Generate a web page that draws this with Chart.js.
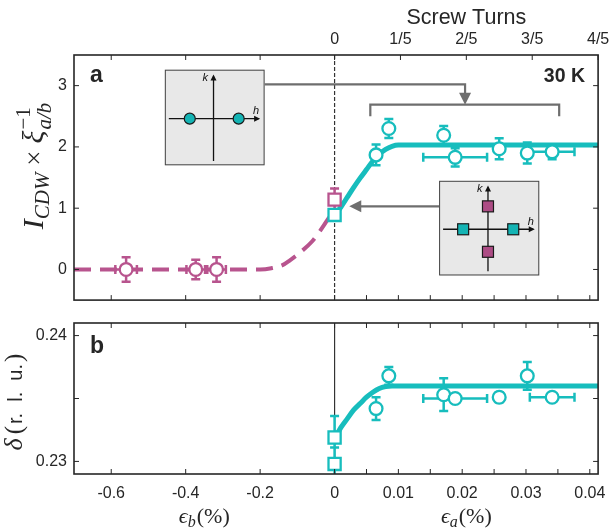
<!DOCTYPE html>
<html><head><meta charset="utf-8">
<script src="https://cdn.jsdelivr.net/npm/chart.js"></script>
<style>
html,body{margin:0;padding:0;background:#fff;}
#wrap{position:relative;width:609px;height:531px;overflow:hidden;}
#ca{position:absolute;left:0;top:0;}
#cb{position:absolute;left:0;top:311px;}
</style></head><body>
<div id="wrap"><canvas id="ca" width="609" height="311"></canvas><canvas id="cb" width="609" height="220"></canvas></div>
<script>
// ---------------- DATA ----------------
// Panel a, b-axis strain (magenta), eps_b in %
const epsB_pts   = [-0.560, -0.373, -0.317];
const intB_pts   = [0.00, 0.00, 0.00];
const intB_errY  = [0.20, 0.16, 0.20];
const intB_errX  = [0.029, 0.025, 0.025];
const epsB_sq    = [0];
const intB_sq    = [1.14];
const intB_sqErr = [0.18];
const epsB_fit   = [-0.70, -0.20, -0.17, -0.14, -0.12, -0.09, -0.06, -0.04, -0.02, 0.00];
const intB_fit   = [0.00, 0.00, 0.02, 0.07, 0.15, 0.29, 0.46, 0.62, 0.80, 0.98];

// Panel a, a-axis strain (cyan), eps_a in %
const epsA_pts   = [0.0065, 0.0085, 0.0171, 0.0189, 0.0258, 0.0302, 0.0341];
const intA_pts   = [1.87, 2.30, 2.19, 1.83, 1.97, 1.90, 1.92];
const intA_errY  = [0.17, 0.155, 0.15, 0.15, 0.17, 0.17, 0.12];
const epsA_errX  = [0, 0, 0, 0.005, 0, 0, 0.0035];
const epsA_sq    = [0];
const intA_sq    = [0.89];
const epsA_fit   = [0, 0.001, 0.002, 0.003, 0.004, 0.005, 0.006, 0.007, 0.008, 0.009, 0.010, 0.0413];
const intA_fit   = [0.88, 1.02, 1.18, 1.34, 1.49, 1.63, 1.77, 1.88, 1.96, 2.01, 2.03, 2.03];

// Panel b, incommensurability delta (r.l.u.)
const delta_pts  = [0.2342, 0.2368, 0.2353, 0.2350, 0.2351, 0.2368, 0.2351];
const delta_errY = [0.0009, 0.0007, 0.0013, 0.0003, 0.0004, 0.0011, 0];
const epsA_sqB   = [0, 0];
const delta_sq   = [0.2319, 0.2298];
const delta_sqErr= [0.0017, 0.0013];
const delta_fit  = [0.2318, 0.2327, 0.2334, 0.2341, 0.2346, 0.2351, 0.2355, 0.2358, 0.23595, 0.2360, 0.2360, 0.2360];

// Tick values / labels
const epsBTicks = [-0.6, -0.4, -0.2, 0];
const epsBTickLabels = ['-0.6', '-0.4', '-0.2', '0'];
const epsATicks = [0.01, 0.02, 0.03, 0.04];
const epsATickLabels = ['0.01', '0.02', '0.03', '0.04'];
const epsAMinor = [0.005, 0.015, 0.025, 0.035];
const turnTicks = [0, 0.2, 0.4, 0.6, 0.8];
const turnTickLabels = ['0', '1/5', '2/5', '3/5', '4/5'];
const intTicks = [0, 1, 2, 3];
const intTickLabels = ['0', '1', '2', '3'];
const deltaTicks = [0.23, 0.235, 0.24];
const deltaTickLabels = ['0.23', '', '0.24'];

// ---------------- AXIS MAPPING ----------------
const U_MIN = -0.7;            // eps_b left end (%)
const EPS_A_MAX = 0.0413;      // eps_a right end (%)
const K_A = 17.14;             // axis units per 1 % of eps_a
const U_MAX = EPS_A_MAX * K_A;
const K_T = U_MAX / 0.8;       // 4/5 turn at the right edge
const uA = e => e * K_A;

// ---------------- STYLE ----------------
const TXT = '#262626';
const CYAN = '#17bdbd';
const MAG = '#b8548e';
const SANS = '"Liberation Sans", Arial, Helvetica, sans-serif';
const SERIF = '"Liberation Serif", "DejaVu Serif", "Times New Roman", serif';
const MR = 6.4, MBW = 2.3, SR = 8.6;

const pts = (xs, ys, f) => xs.map((x, i) => ({x: f ? f(x) : x, y: ys[i]}));

function xScale(pos, h, vals, labels, show, pad) {
  return {
    type: 'linear', position: pos, min: U_MIN, max: U_MAX,
    grid: {display: false, drawTicks: false}, border: {display: false},
    ticks: {display: show, autoSkip: false, maxRotation: 0, minRotation: 0, padding: pad, color: TXT,
      font: {family: SANS, size: 16}, callback: (v, i) => labels[i]},
    afterBuildTicks: s => { s.ticks = vals.map(v => ({value: v})); },
    afterFit: s => { s.height = h; s.paddingLeft = 0; s.paddingRight = 0; s.paddingTop = 0; s.paddingBottom = 0; }
  };
}
function yScale(pos, w, min, max, vals, labels, show) {
  return {
    type: 'linear', position: pos, min: min, max: max,
    grid: {display: false, drawTicks: false}, border: {display: false},
    ticks: {display: show, autoSkip: false, padding: 7, color: TXT,
      font: {family: SANS, size: 16}, callback: (v, i) => labels[i]},
    afterBuildTicks: s => { s.ticks = vals.map(v => ({value: v})); },
    afterFit: s => { s.width = w; s.paddingLeft = 0; s.paddingRight = 0; s.paddingTop = 0; s.paddingBottom = 0; }
  };
}

const errorBars = {
  id: 'errorBars',
  beforeDatasetDraw(chart, args) {
    const ds = chart.data.datasets[args.index];
    if (!ds.errY && !ds.errX) return;
    const ctx = chart.ctx, xs = chart.scales.x, ys = chart.scales.y, ca = chart.chartArea;
    ctx.save();
    ctx.beginPath(); ctx.rect(ca.left, ca.top, ca.right - ca.left, ca.bottom - ca.top); ctx.clip();
    ctx.strokeStyle = ds.pointBorderColor; ctx.lineWidth = 2.5;
    const C = 4.5;
    ctx.beginPath();
    ds.data.forEach((p, i) => {
      const x = xs.getPixelForValue(p.x), y = ys.getPixelForValue(p.y);
      const ey = ds.errY ? ds.errY[i] : 0, ex = ds.errX ? ds.errX[i] : 0;
      if (ey > 0) {
        const y1 = ys.getPixelForValue(p.y + ey), y2 = ys.getPixelForValue(p.y - ey);
        ctx.moveTo(x, y1); ctx.lineTo(x, y2);
        ctx.moveTo(x - C, y1); ctx.lineTo(x + C, y1);
        ctx.moveTo(x - C, y2); ctx.lineTo(x + C, y2);
      }
      if (ex > 0) {
        const x1 = xs.getPixelForValue(p.x - ex), x2 = xs.getPixelForValue(p.x + ex);
        ctx.moveTo(x1, y); ctx.lineTo(x2, y);
        ctx.moveTo(x1, y - C); ctx.lineTo(x1, y + C);
        ctx.moveTo(x2, y - C); ctx.lineTo(x2, y + C);
      }
    });
    ctx.stroke();
    ctx.restore();
  }
};

function drawFrame(chart, topMarks, bottomMarks, yMarks) {
  const ctx = chart.ctx, ca = chart.chartArea, xs = chart.scales.x, ys = chart.scales.y;
  ctx.save();
  ctx.strokeStyle = TXT; ctx.lineWidth = 1;
  const TL = 5;
  ctx.beginPath();
  bottomMarks.forEach(u => { const x = xs.getPixelForValue(u); ctx.moveTo(x, ca.bottom); ctx.lineTo(x, ca.bottom - TL); });
  topMarks.forEach(u => { const x = xs.getPixelForValue(u); ctx.moveTo(x, ca.top); ctx.lineTo(x, ca.top + TL); });
  yMarks.forEach(v => { const y = ys.getPixelForValue(v);
    ctx.moveTo(ca.left, y); ctx.lineTo(ca.left + TL, y);
    ctx.moveTo(ca.right, y); ctx.lineTo(ca.right - TL, y); });
  ctx.stroke();
  ctx.lineWidth = 1.6;
  ctx.strokeRect(ca.left, ca.top, ca.right - ca.left, ca.bottom - ca.top);
  ctx.restore();
}
function zeroLine(chart, dash) {
  const ctx = chart.ctx, ca = chart.chartArea, x = chart.scales.x.getPixelForValue(0);
  ctx.save(); ctx.strokeStyle = '#333'; ctx.lineWidth = 1.2; ctx.setLineDash(dash);
  ctx.beginPath(); ctx.moveTo(x, ca.top); ctx.lineTo(x, ca.bottom); ctx.stroke(); ctx.restore();
}
function drawRich(ctx, parts, cx, cy, rotate) {
  ctx.save();
  ctx.translate(cx, cy); if (rotate) ctx.rotate(-Math.PI / 2);
  ctx.textBaseline = 'alphabetic'; ctx.textAlign = 'left'; ctx.fillStyle = TXT;
  const ws = []; let total = 0;
  parts.forEach(p => {
    let w;
    if (p.stack) { w = Math.max(...p.stack.map(q => { ctx.font = q.f; return ctx.measureText(q.t).width; })); }
    else { ctx.font = p.f; w = ctx.measureText(p.t).width; }
    w += (p.pre || 0) + (p.post || 0); ws.push(w); total += w;
  });
  let x = -total / 2;
  parts.forEach((p, i) => {
    if (p.stack) p.stack.forEach(q => { ctx.font = q.f; ctx.fillText(q.t, x + (p.pre || 0), q.dy); });
    else { ctx.font = p.f; ctx.fillText(p.t, x + (p.pre || 0), p.dy || 0); }
    x += ws[i];
  });
  ctx.restore();
}
function arrowHead(ctx, tx, ty, dir, len, hw) {
  ctx.beginPath();
  if (dir === 'down') { ctx.moveTo(tx, ty); ctx.lineTo(tx - hw, ty - len); ctx.lineTo(tx + hw, ty - len); }
  if (dir === 'left') { ctx.moveTo(tx, ty); ctx.lineTo(tx + len, ty - hw); ctx.lineTo(tx + len, ty + hw); }
  if (dir === 'up')   { ctx.moveTo(tx, ty); ctx.lineTo(tx - hw, ty + len); ctx.lineTo(tx + hw, ty + len); }
  if (dir === 'right'){ ctx.moveTo(tx, ty); ctx.lineTo(tx - len, ty - hw); ctx.lineTo(tx - len, ty + hw); }
  ctx.closePath(); ctx.fill();
}

// Inset / annotation layout (in axis units: u for x, data value for y)
const INSET1 = {u0: -0.456, u1: -0.188, y0: 3.26, y1: 1.70};
const INSET2 = {e0: 0.01638, e1: 0.03208, y0: 1.447, y1: -0.098};
const CONN1 = {yStart: 3.02, eCorner: 0.02045, yTip: 2.69, eL: 0.0056, eR: 0.0352, yFoot: 2.50};
const CONN2 = {y: 1.03, eTip: 0.0023};

function drawInset(ctx, x0, y0, x1, y1, kind) {
  const w = x1 - x0, h = y1 - y0;
  ctx.save();
  ctx.fillStyle = '#e8e8e8'; ctx.fillRect(x0, y0, w, h);
  ctx.strokeStyle = '#444'; ctx.lineWidth = 1; ctx.strokeRect(x0 + 0.5, y0 + 0.5, w - 1, h - 1);
  const hy = y0 + h * 0.512, vx = x0 + w * 0.488;
  ctx.strokeStyle = '#111'; ctx.fillStyle = '#111'; ctx.lineWidth = 1.3;
  ctx.beginPath();
  ctx.moveTo(x0 + w * 0.04, hy); ctx.lineTo(x0 + w * 0.94, hy);
  ctx.moveTo(vx, y0 + h * 0.955); ctx.lineTo(vx, y0 + h * 0.07);
  ctx.stroke();
  arrowHead(ctx, x0 + w * 0.955, hy, 'right', 6, 3);
  arrowHead(ctx, vx, y0 + h * 0.05, 'up', 6, 3);
  ctx.font = 'italic 11px ' + SANS; ctx.textAlign = 'center'; ctx.textBaseline = 'middle';
  ctx.fillText('k', x0 + w * 0.405, y0 + h * 0.085);
  ctx.fillText('h', x0 + w * 0.915, y0 + h * 0.43);
  ctx.lineWidth = 1.2; ctx.strokeStyle = '#1a1a1a';
  if (kind === 1) {
    [0.25, 0.74].forEach(f => { ctx.beginPath(); ctx.arc(x0 + w * f, hy, 5.5, 0, Math.PI * 2);
      ctx.fillStyle = '#14b4b4'; ctx.fill(); ctx.stroke(); });
  } else {
    const s = 11;
    [0.24, 0.74].forEach(f => { ctx.fillStyle = '#14b4b4'; ctx.fillRect(x0 + w * f - s / 2, hy - s / 2, s, s); ctx.strokeRect(x0 + w * f - s / 2, hy - s / 2, s, s); });
    [0.27, 0.75].forEach(f => { ctx.fillStyle = '#ad4c85'; ctx.fillRect(vx - s / 2, y0 + h * f - s / 2, s, s); ctx.strokeRect(vx - s / 2, y0 + h * f - s / 2, s, s); });
  }
  ctx.restore();
}

const xMarksBottom = epsBTicks.concat(epsATicks.concat(epsAMinor).map(uA));
const xMarksTopA = [-0.6, -0.4, -0.2].concat(turnTicks.map(t => t * K_T));

// ---------------- CHART A ----------------
const annotA = {
  id: 'annotA',
  beforeDatasetsDraw(chart) { zeroLine(chart, [4, 2]); },
  afterDatasetsDraw(chart) {
    const ctx = chart.ctx, xs = chart.scales.x, ys = chart.scales.y;
    drawFrame(chart, xMarksTopA, xMarksBottom, intTicks);
    drawInset(ctx, xs.getPixelForValue(INSET1.u0), ys.getPixelForValue(INSET1.y0), xs.getPixelForValue(INSET1.u1), ys.getPixelForValue(INSET1.y1), 1);
    drawInset(ctx, xs.getPixelForValue(uA(INSET2.e0)), ys.getPixelForValue(INSET2.y0), xs.getPixelForValue(uA(INSET2.e1)), ys.getPixelForValue(INSET2.y1), 2);
    ctx.save();
    ctx.strokeStyle = '#6e6e6e'; ctx.fillStyle = '#6e6e6e'; ctx.lineWidth = 2.2;
    const xs1 = xs.getPixelForValue(INSET1.u1), y1 = ys.getPixelForValue(CONN1.yStart);
    const xc = xs.getPixelForValue(uA(CONN1.eCorner)), yt = ys.getPixelForValue(CONN1.yTip);
    ctx.beginPath(); ctx.moveTo(xs1, y1); ctx.lineTo(xc, y1); ctx.lineTo(xc, yt - 10); ctx.stroke();
    arrowHead(ctx, xc, yt, 'down', 12, 6);
    const xl = xs.getPixelForValue(uA(CONN1.eL)), xr = xs.getPixelForValue(uA(CONN1.eR)), yf = ys.getPixelForValue(CONN1.yFoot);
    ctx.beginPath(); ctx.moveTo(xl, yf); ctx.lineTo(xl, yt); ctx.lineTo(xr, yt); ctx.lineTo(xr, yf); ctx.stroke();
    const x2s = xs.getPixelForValue(uA(INSET2.e0)), y2 = ys.getPixelForValue(CONN2.y), x2t = xs.getPixelForValue(uA(CONN2.eTip));
    ctx.beginPath(); ctx.moveTo(x2s, y2); ctx.lineTo(x2t + 10, y2); ctx.stroke();
    arrowHead(ctx, x2t, y2, 'left', 12, 6);
    ctx.restore();
    ctx.save(); ctx.fillStyle = TXT; ctx.textBaseline = 'alphabetic';
    ctx.font = 'bold 23px ' + SANS; ctx.textAlign = 'left'; ctx.fillText('a', 90, 82);
    ctx.font = 'bold 19.5px ' + SANS; ctx.textAlign = 'right'; ctx.fillText('30 K', 585, 82);
    ctx.font = '21.5px ' + SANS; ctx.textAlign = 'center';
    ctx.fillText('Screw Turns', (xs.getPixelForValue(0) + xs.getPixelForValue(U_MAX)) / 2, 24);
    ctx.restore();
    drawRich(ctx, [
      {t: 'I', f: 'italic 30px ' + SERIF},
      {t: 'CDW', f: 'italic 21px ' + SERIF, dy: 6},
      {t: '\u00d7', f: '27px ' + SERIF, pre: 7, post: 7},
      {t: '\u03be', f: 'italic 30px ' + SERIF},
      {stack: [{t: '\u22121', f: '21px ' + SERIF, dy: -13}, {t: 'a/b', f: 'italic 21px ' + SERIF, dy: 8}], pre: 1}
    ], 43, 166, true);
  }
};

new Chart(document.getElementById('ca'), {
  type: 'scatter',
  data: {datasets: [
    {data: pts(epsB_fit, intB_fit), showLine: true, borderColor: MAG, borderWidth: 4, borderDash: [17, 9], pointRadius: 0, cubicInterpolationMode: 'monotone', order: 5},
    {data: pts(epsA_fit, intA_fit, uA), showLine: true, borderColor: CYAN, borderWidth: 5, pointRadius: 0, cubicInterpolationMode: 'monotone', order: 5},
    {data: pts(epsB_pts, intB_pts), errY: intB_errY, errX: intB_errX, pointStyle: 'circle', pointRadius: MR, pointBorderWidth: MBW, pointBackgroundColor: '#fff', pointBorderColor: MAG, order: 2},
    {data: pts(epsB_sq, intB_sq), errY: intB_sqErr, pointStyle: 'rect', pointRadius: SR, pointBorderWidth: MBW, pointBackgroundColor: '#fff', pointBorderColor: MAG, order: 2},
    {data: pts(epsA_sq, intA_sq, uA), pointStyle: 'rect', pointRadius: SR, pointBorderWidth: MBW, pointBackgroundColor: '#fff', pointBorderColor: CYAN, order: 1},
    {data: pts(epsA_pts, intA_pts, uA), errY: intA_errY, errX: epsA_errX.map(uA), pointStyle: 'circle', pointRadius: MR, pointBorderWidth: MBW, pointBackgroundColor: '#fff', pointBorderColor: CYAN, order: 1}
  ]},
  options: {
    responsive: false, animation: false, events: [],
    layout: {padding: 0},
    plugins: {legend: {display: false}, tooltip: {enabled: false}},
    scales: {
      x: xScale('bottom', 10, [0], [''], false, 0),
      xt: xScale('top', 55, turnTicks.map(t => t * K_T), turnTickLabels, true, 6),
      y: yScale('left', 74, -0.5, 3.5, intTicks, intTickLabels, true),
      yr: yScale('right', 10, -0.5, 3.5, intTicks, intTickLabels, false)
    }
  },
  plugins: [errorBars, annotA]
});

// ---------------- CHART B ----------------
const annotB = {
  id: 'annotB',
  beforeDatasetsDraw(chart) { zeroLine(chart, []); },
  afterDatasetsDraw(chart) {
    const ctx = chart.ctx, xs = chart.scales.x;
    drawFrame(chart, xMarksBottom, xMarksBottom, deltaTicks);
    ctx.save(); ctx.fillStyle = TXT; ctx.textBaseline = 'alphabetic';
    ctx.font = 'bold 23px ' + SANS; ctx.textAlign = 'left'; ctx.fillText('b', 90, 42);
    ctx.restore();
    const cL = (xs.getPixelForValue(U_MIN) + xs.getPixelForValue(0)) / 2;
    const cR = (xs.getPixelForValue(0) + xs.getPixelForValue(U_MAX)) / 2;
    [[cL, 'b'], [cR, 'a']].forEach(([cx, s]) => drawRich(ctx, [
      {t: '\u03f5', f: 'italic 22px ' + SERIF},
      {t: s, f: 'italic 16px ' + SERIF, dy: 4, post: 1},
      {t: '(%)', f: '22px ' + SERIF}
    ], cx, 212, false));
    drawRich(ctx, [
      {t: '\u03b4', f: 'italic 26px ' + SERIF, post: 4},
      {t: '(', f: '25px ' + SERIF, post: 2},
      {t: 'r.  l.  u.', f: '20px ' + SANS},
      {t: ')', f: '25px ' + SERIF, pre: 2}
    ], 22, 91, true);
  }
};

new Chart(document.getElementById('cb'), {
  type: 'scatter',
  data: {datasets: [
    {data: pts(epsA_fit, delta_fit, uA), showLine: true, borderColor: CYAN, borderWidth: 5, pointRadius: 0, cubicInterpolationMode: 'monotone', order: 5},
    {data: pts(epsA_sqB, delta_sq, uA), errY: delta_sqErr, pointStyle: 'rect', pointRadius: SR, pointBorderWidth: MBW, pointBackgroundColor: '#fff', pointBorderColor: CYAN, order: 1},
    {data: pts(epsA_pts, delta_pts, uA), errY: delta_errY, errX: epsA_errX.map(uA), pointStyle: 'circle', pointRadius: MR, pointBorderWidth: MBW, pointBackgroundColor: '#fff', pointBorderColor: CYAN, order: 1}
  ]},
  options: {
    responsive: false, animation: false, events: [],
    layout: {padding: 0},
    plugins: {legend: {display: false}, tooltip: {enabled: false}},
    scales: {
      x: xScale('bottom', 57, epsBTicks.concat(epsATicks.map(uA)), epsBTickLabels.concat(epsATickLabels), true, 10),
      xt: xScale('top', 12, [0], [''], false, 0),
      y: yScale('left', 74, 0.229, 0.241, deltaTicks, deltaTickLabels, true),
      yr: yScale('right', 10, 0.229, 0.241, deltaTicks, deltaTickLabels, false)
    }
  },
  plugins: [errorBars, annotB]
});
</script>
</body></html>
